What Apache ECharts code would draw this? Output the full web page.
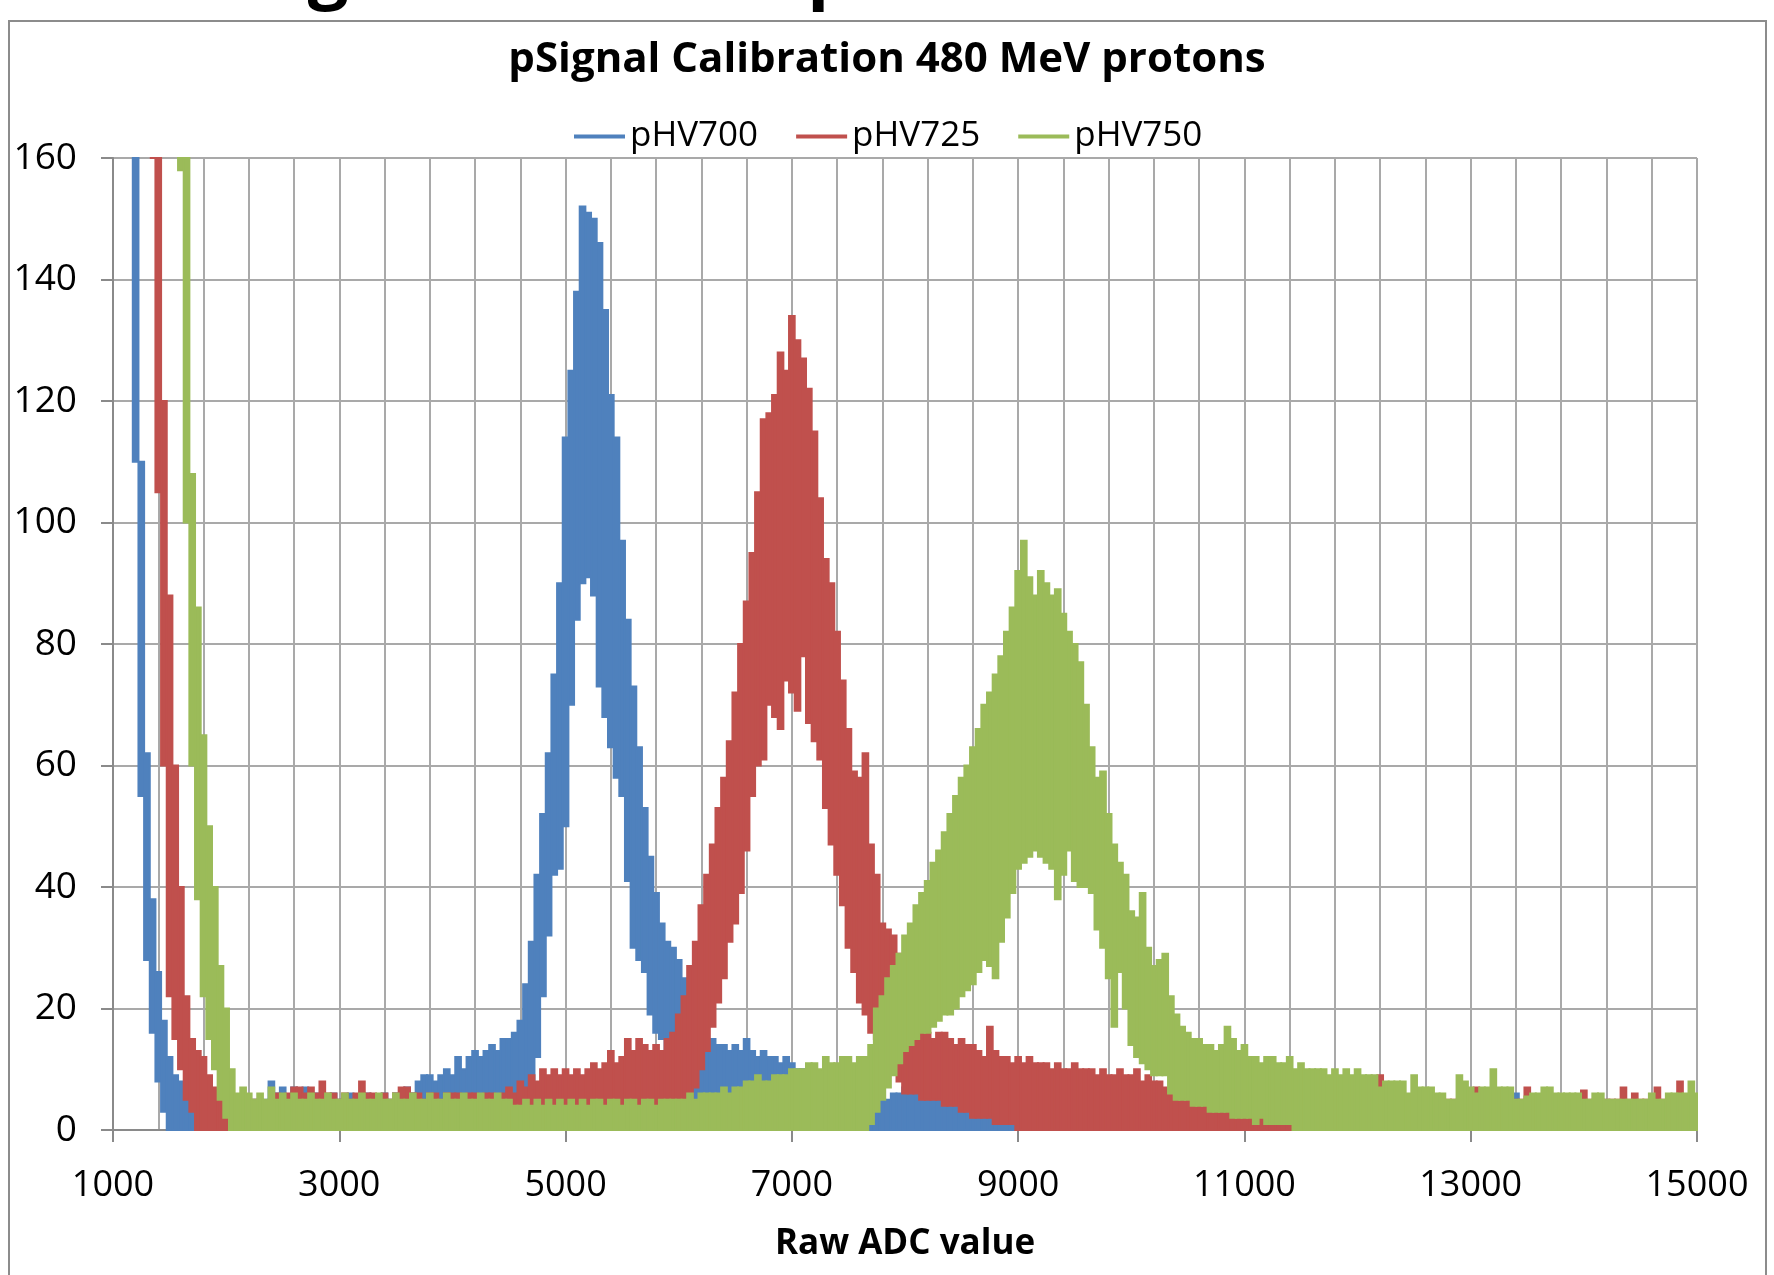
<!DOCTYPE html>
<html>
<head>
<meta charset="utf-8">
<title>pSignal Calibration 480 MeV protons</title>
<script src="https://cdn.jsdelivr.net/npm/echarts@6/dist/echarts.min.js"></script>
<style>
  html, body { margin: 0; padding: 0; background: #ffffff; }
  #chart { width: 1774px; height: 1275px; }
</style>
</head>
<body>
<div id="chart"></div>
<script>
// Histogram bins: first bin centre and bin width (raw ADC counts)
const adcStart = 1000;
const adcBinWidth = 50;

const seriesNames = ['pHV700', 'pHV725', 'pHV750'];
const xLabelValues = [1000, 3000, 5000, 7000, 9000, 11000, 13000, 15000];

// Each bin holds the lowest and highest count seen inside it (band of the noisy trace).
// pHV700
const hv700Upper = [
  330, 300, 270, 235, 180, 110, 62, 38, 26, 18, 12, 9, 8, 6, 5, 3, 2, 2, 2, 2,
  3, 3, 4, 5, 4, 5, 4, 5, 8, 6, 7, 5, 7, 6, 7, 5, 6, 5, 5, 6,
  5, 5, 6, 5, 5, 6, 5, 5, 6, 5, 6, 6, 7, 6, 8, 9, 9, 8, 9, 10,
  9, 12, 10, 12, 13, 12, 13, 14, 13, 15, 15, 16, 18, 24, 31, 42, 52, 62, 75, 90,
  114, 125, 138, 152, 151, 150, 146, 135, 121, 114, 97, 84, 73, 63, 53, 45, 39, 34, 31, 30,
  28, 25, 21, 17, 16, 15, 15, 14, 14, 13, 14, 13, 15, 13, 12, 13, 12, 12, 11, 12,
  11, 10, 10, 10, 9, 9, 9, 9, 8, 8, 8, 8, 9, 11, 12, 6, 5, 5, 6, 6,
  7, 7, 6, 6, 6, 5, 5, 5, 4, 4, 4, 3, 3, 3, 2, 2, 2, 2, 2, 1,
  2, 2, 2, 2, 2, 2, 2, 2, 2, 2, 2, 2, 2, 2, 2, 2, 2, 2, 2, 2,
  2, 2, 2, 2, 2, 2, 2, 2, 2, 2, 2, 2, 2, 2, 2, 2, 2, 2, 2, 2,
  2, 2, 2, 2, 2, 2, 2, 2, 2, 2, 3, 3, 3, 3, 3, 3, 3, 3, 3, 3,
  3, 3, 3, 3, 3, 3, 3, 3, 3, 3, 3, 3, 3, 3, 3, 3, 3, 3, 3, 3,
  3, 3, 3, 3, 3, 3, 3, 3, 6, 3, 3, 3, 3, 3, 3, 3, 3, 3, 3, 3,
  3, 3, 3, 3, 3, 3, 3, 3, 3, 3, 3, 3, 3, 3, 3, 3, 3, 3, 3, 3,
  3
];
const hv700Lower = [
  300, 270, 240, 175, 110, 55, 28, 16, 8, 3, 0, 0, 0, 0, 0, 0, 0, 0, 0, 0,
  1, 1, 1, 1, 1, 1, 1, 1, 2, 2, 2, 2, 2, 2, 2, 2, 2, 2, 2, 2,
  2, 2, 2, 2, 2, 2, 2, 2, 2, 2, 2, 2, 2, 2, 3, 3, 3, 3, 3, 3,
  3, 3, 3, 3, 4, 4, 4, 4, 4, 4, 4, 5, 5, 6, 8, 12, 22, 32, 42, 43,
  50, 70, 84, 90, 91, 88, 73, 68, 63, 58, 55, 41, 30, 28, 26, 19, 16, 15, 11, 8,
  6, 5, 5, 5, 6, 6, 6, 6, 6, 5, 6, 5, 5, 5, 4, 4, 4, 4, 3, 3,
  3, 3, 2, 2, 2, 2, 2, 1, 1, 1, 1, 1, 0, 0, 0, 0, 0, 0, 0, 0,
  0, 0, 0, 0, 0, 0, 0, 0, 0, 0, 0, 0, 0, 0, 0, 0, 0, 0, 0, 0,
  0, 0, 0, 0, 0, 0, 0, 0, 0, 0, 0, 0, 0, 0, 0, 0, 0, 0, 0, 0,
  0, 0, 0, 0, 0, 0, 0, 0, 0, 0, 0, 0, 0, 0, 0, 0, 0, 0, 0, 0,
  0, 0, 0, 0, 0, 0, 0, 0, 0, 0, 0, 0, 0, 0, 0, 0, 0, 0, 0, 0,
  0, 0, 0, 0, 0, 0, 0, 0, 0, 0, 0, 0, 0, 0, 0, 0, 0, 0, 0, 0,
  0, 0, 0, 0, 0, 0, 0, 0, 0, 0, 0, 0, 0, 0, 0, 0, 0, 0, 0, 0,
  0, 0, 0, 0, 0, 0, 0, 0, 0, 0, 0, 0, 0, 0, 0, 0, 0, 0, 0, 0,
  0
];

// pHV725
const hv725Upper = [
  420, 390, 350, 310, 270, 230, 200, 180, 165, 120, 88, 60, 40, 22, 15, 13, 12, 9, 7, 5,
  3, 3, 4, 5, 4, 5, 5, 4, 5, 6, 5, 6, 7, 7, 6, 7, 6, 8, 6, 6,
  5, 6, 5, 6, 8, 6, 6, 5, 6, 5, 6, 7, 7, 6, 6, 5, 6, 6, 5, 6,
  6, 6, 5, 6, 6, 5, 6, 6, 5, 6, 7, 6, 8, 7, 9, 8, 10, 9, 10, 9,
  10, 9, 10, 9, 10, 11, 10, 11, 13, 11, 12, 15, 13, 15, 14, 13, 14, 13, 15, 16,
  19, 22, 27, 31, 37, 42, 47, 53, 58, 64, 72, 80, 87, 95, 105, 117, 118, 121, 128, 125,
  134, 130, 127, 122, 115, 104, 94, 90, 82, 74, 66, 59, 58, 62, 47, 42, 34, 33, 32, 29,
  26, 24, 22, 18, 16, 15, 16, 16, 15, 14, 15, 14, 14, 13, 12, 17, 13, 12, 12, 11,
  12, 11, 12, 11, 11, 11, 10, 11, 10, 10, 11, 10, 10, 10, 9, 10, 9, 9, 10, 9,
  9, 10, 8, 9, 8, 8, 7, 6, 6, 6, 6, 5, 5, 5, 5, 5, 5, 5, 5, 5,
  5, 5, 5, 5, 5, 5, 5, 5, 5, 5, 5, 5, 5, 5, 5, 5, 5, 5, 5, 5,
  5, 5, 5, 6, 9, 6, 5, 5, 5, 5, 5, 5, 5, 5, 5, 5, 5, 5, 5, 5,
  5, 7, 5, 5, 5, 5, 5, 5, 5, 5, 7, 5, 5, 5, 5, 5, 5, 5, 5, 5,
  6.5, 5, 5, 5, 5, 5, 5, 7, 5, 6, 5, 5, 5, 7, 5, 5, 5, 8, 5, 5,
  5
];
const hv725Lower = [
  400, 370, 330, 290, 250, 210, 185, 160, 105, 60, 22, 15, 10, 5, 3, 0, 0, 0, 0, 0,
  0, 0, 1, 2, 2, 2, 2, 2, 2, 2, 2, 2, 2, 2, 2, 2, 2, 2, 2, 2,
  2, 2, 2, 2, 2, 2, 2, 2, 2, 2, 2, 2, 2, 2, 2, 2, 2, 2, 2, 2,
  2, 2, 2, 2, 2, 2, 2, 2, 2, 2, 3, 3, 3, 3, 3, 3, 3, 3, 3, 3,
  3, 3, 3, 3, 3, 3, 3, 3, 3, 3, 3, 3, 3, 3, 3, 3, 3, 3, 3, 3,
  3, 3, 4, 7, 10, 13, 17, 21, 25, 31, 34, 39, 46, 55, 60, 61, 70, 68, 66, 74,
  72, 69, 78, 67, 64, 61, 53, 47, 42, 37, 30, 26, 21, 19, 16, 15, 13, 12, 10, 8,
  6, 6, 6, 5, 5, 5, 5, 4, 4, 4, 3, 3, 2, 2, 2, 2, 1, 1, 1, 1,
  0, 0, 0, 0, 0, 0, 0, 0, 0, 0, 0, 0, 0, 0, 0, 0, 0, 0, 0, 0,
  0, 0, 0, 0, 0, 0, 0, 0, 0, 0, 0, 0, 0, 0, 0, 0, 0, 0, 0, 0,
  0, 0, 0, 0, 0, 0, 0, 0, 0, 0, 0, 0, 0, 0, 0, 0, 0, 0, 0, 0,
  0, 0, 0, 0, 0, 0, 0, 0, 0, 0, 0, 0, 0, 0, 0, 0, 0, 0, 0, 0,
  0, 0, 0, 0, 0, 0, 0, 0, 0, 0, 0, 0, 0, 0, 0, 0, 0, 0, 0, 0,
  0, 0, 0, 0, 0, 0, 0, 0, 0, 0, 0, 0, 0, 0, 0, 0, 0, 0, 0, 0,
  0
];

// pHV750
const hv750Upper = [
  500, 480, 450, 420, 390, 360, 330, 300, 270, 245, 220, 200, 190, 160, 108, 86, 65, 50, 40, 27,
  20, 10, 6, 7, 6, 5, 6, 5, 7, 5, 6, 5, 6, 5, 5, 6, 5, 5, 6, 5,
  5, 6, 5, 5, 6, 5, 5, 6, 5, 5, 6, 5, 5, 6, 5, 5, 6, 5, 5, 6,
  5, 5, 6, 5, 5, 6, 5, 5, 6, 5, 5, 4, 4, 5, 4, 5, 4, 5, 4, 5,
  4, 5, 4, 5, 4, 5, 5, 4, 5, 5, 4, 5, 5, 4, 5, 5, 4, 5, 5, 5,
  5, 5, 6, 5, 6, 6, 6, 6, 7, 6, 7, 7, 8, 8, 9, 8, 8, 9, 9, 9,
  10, 10, 10, 11, 11, 10, 12, 11, 11, 12, 12, 11, 12, 12, 14, 20, 22, 25, 27, 29,
  32, 34, 37, 39, 41, 44, 46, 49, 52, 55, 58, 60, 63, 66, 70, 72, 75, 78, 82, 86,
  92, 97, 91, 88, 92, 90, 88, 89, 85, 82, 80, 77, 70, 63, 58, 59, 52, 47, 44, 42,
  36, 35, 39, 30, 27, 28, 29, 22, 19, 17, 16, 15, 15, 14, 14, 13, 14, 17, 15, 13,
  14, 12, 12, 11, 12, 12, 11, 11, 12, 10, 11, 10, 10, 10, 10, 9, 10, 9, 10, 9,
  10, 9, 9, 9, 7, 8, 8, 8, 8, 6, 9, 7, 7, 7, 6, 6, 5, 5, 9, 8,
  7, 6, 7, 7, 10, 7, 7, 7, 5, 5, 5.5, 6, 6, 7, 7, 6, 6, 6, 6, 6,
  5, 5, 6, 6, 5, 5, 5, 5, 5, 5, 5, 5, 6, 5, 5, 6, 6, 6, 6, 8,
  6
];
const hv750Lower = [
  480, 450, 420, 390, 360, 330, 300, 270, 245, 220, 200, 185, 158, 100, 60, 38, 22, 15, 10, 5,
  2, 0, 0, 0, 0, 0, 0, 0, 0, 0, 0, 0, 0, 0, 0, 0, 0, 0, 0, 0,
  0, 0, 0, 0, 0, 0, 0, 0, 0, 0, 0, 0, 0, 0, 0, 0, 0, 0, 0, 0,
  0, 0, 0, 0, 0, 0, 0, 0, 0, 0, 0, 0, 0, 0, 0, 0, 0, 0, 0, 0,
  0, 0, 0, 0, 0, 0, 0, 0, 0, 0, 0, 0, 0, 0, 0, 0, 0, 0, 0, 0,
  0, 0, 0, 0, 0, 0, 0, 0, 0, 0, 0, 0, 0, 0, 0, 0, 0, 0, 0, 0,
  0, 0, 0, 0, 0, 0, 0, 0, 0, 0, 0, 0, 0, 0, 1, 3, 5, 7, 9, 11,
  13, 14, 15, 16, 16, 17, 18, 19, 19, 20, 22, 23, 24, 26, 28, 27, 25, 31, 35, 39,
  43, 44, 45, 46, 45, 44, 43, 38, 42, 46, 41, 40, 40, 39, 33, 30, 25, 17, 26, 20,
  14, 12, 11, 10, 9, 9, 9, 6, 5, 5, 5, 4, 4, 4, 3, 3, 3, 3, 2, 2,
  2, 2, 1, 2, 1, 1, 1, 1, 1, 0, 0, 0, 0, 0, 0, 0, 0, 0, 0, 0,
  0, 0, 0, 0, 0, 0, 0, 0, 0, 0, 0, 0, 0, 0, 0, 0, 0, 0, 0, 0,
  0, 0, 0, 0, 0, 0, 0, 0, 0, 0, 0, 0, 0, 0, 0, 0, 0, 0, 0, 0,
  0, 0, 0, 0, 0, 0, 0, 0, 0, 0, 0, 0, 0, 0, 0, 0, 0, 0, 0, 0,
  0
];

const FONT = '"Open Sans", "Noto Sans", sans-serif';
const COLORS = ['#4F81BD', '#C0504D', '#9BBB59'];
const GRID_GREY = '#a9a9a9';
const AXIS_GREY = '#8a8a8a';

// Vertical grid lines every 400 counts across the axis range
const gridLineValues = [];
for (let v = 1000; v <= 15000; v += 400) gridLineValues.push(v);

// [bin centre, low, high] records for the custom series
function toBins(upper, lower) {
  return upper.map((hi, i) => [adcStart + i * adcBinWidth, lower[i], hi]);
}

// One filled block per bin, spanning the low..high band of the trace
function renderBin(params, api) {
  const x = api.value(0);
  const lo = api.value(1);
  const hi = api.value(2);
  const a = api.coord([x - adcBinWidth / 2, hi]);
  const b = api.coord([x + adcBinWidth / 2, lo]);
  const cs = params.coordSys;
  const shape = echarts.graphic.clipRectByRect(
    { x: a[0], y: a[1], width: b[0] - a[0], height: b[1] - a[1] },
    { x: cs.x, y: cs.y, width: cs.width, height: cs.height }
  );
  if (!shape) return null;
  const color = api.visual('color');
  return {
    type: 'rect',
    shape: shape,
    style: { fill: color, stroke: color, lineWidth: 2 }
  };
}

const binSets = [
  toBins(hv700Upper, hv700Lower),
  toBins(hv725Upper, hv725Lower),
  toBins(hv750Upper, hv750Lower)
];

const chart = echarts.init(document.getElementById('chart'), null, { renderer: 'canvas' });

chart.setOption({
  animation: false,
  backgroundColor: '#ffffff',
  color: COLORS,
  title: {
    text: 'pSignal Calibration 480 MeV protons',
    left: 'center',
    top: 39,
    padding: 0,
    textStyle: { fontFamily: FONT, fontWeight: 'bold', fontSize: 42, color: '#000000' }
  },
  legend: {
    data: seriesNames,
    top: 119,
    left: 574,
    padding: 0,
    icon: 'rect',
    itemWidth: 51,
    itemHeight: 4,
    itemGap: 38,
    textStyle: { fontFamily: FONT, fontSize: 35, color: '#000000' }
  },
  graphic: [
    {
      type: 'rect',
      silent: true,
      shape: { x: 9, y: 21, width: 1757, height: 1300 },
      style: { fill: 'none', stroke: '#8c8c8c', lineWidth: 2 }
    },
    // descenders of the slide heading above the chart frame
    {
      type: 'text',
      silent: true,
      x: 328, y: -26,
      style: { text: 'g', font: 'bold 72px "Open Sans"', fill: '#000000', align: 'center', verticalAlign: 'middle' }
    },
    {
      type: 'text',
      silent: true,
      x: 830, y: -26,
      style: { text: 'p', font: 'bold 72px "Open Sans"', fill: '#000000', align: 'center', verticalAlign: 'middle' }
    }
  ],
  grid: { left: 113, right: 77, top: 158, bottom: 145, containLabel: false },
  xAxis: [
    {
      type: 'value',
      min: 1000,
      max: 15000,
      position: 'bottom',
      name: 'Raw ADC value',
      nameLocation: 'middle',
      nameGap: 97,
      nameTextStyle: { fontFamily: FONT, fontWeight: 'bold', fontSize: 35, color: '#000000' },
      axisLine: { show: true, onZero: false, lineStyle: { color: AXIS_GREY, width: 2 } },
      axisTick: { show: true, length: 12, customValues: xLabelValues, lineStyle: { color: AXIS_GREY, width: 2 } },
      axisLabel: {
        customValues: xLabelValues,
        formatter: (v) => String(v),
        fontFamily: FONT, fontSize: 36, color: '#000000', margin: 38
      },
      splitLine: { show: false }
    },
    {
      type: 'value',
      min: 1000,
      max: 15000,
      position: 'bottom',
      axisLine: { show: false },
      axisTick: { show: false, customValues: gridLineValues },
      axisLabel: { show: false },
      splitLine: { show: true, lineStyle: { color: GRID_GREY, width: 2 } }
    }
  ],
  yAxis: {
    type: 'value',
    min: 0,
    max: 160,
    interval: 20,
    axisLine: { show: true, lineStyle: { color: AXIS_GREY, width: 2 } },
    axisTick: { show: true, length: 12, lineStyle: { color: AXIS_GREY, width: 2 } },
    axisLabel: { fontFamily: FONT, fontSize: 37, color: '#000000', margin: 36 },
    splitLine: { show: true, lineStyle: { color: GRID_GREY, width: 2 } }
  },
  series: seriesNames.map((name, i) => ({
    type: 'custom',
    name: name,
    xAxisIndex: 0,
    yAxisIndex: 0,
    renderItem: renderBin,
    encode: { x: 0, y: [1, 2] },
    itemStyle: { color: COLORS[i] },
    data: binSets[i],
    z: 2 + i
  }))
});
</script>
</body>
</html>
